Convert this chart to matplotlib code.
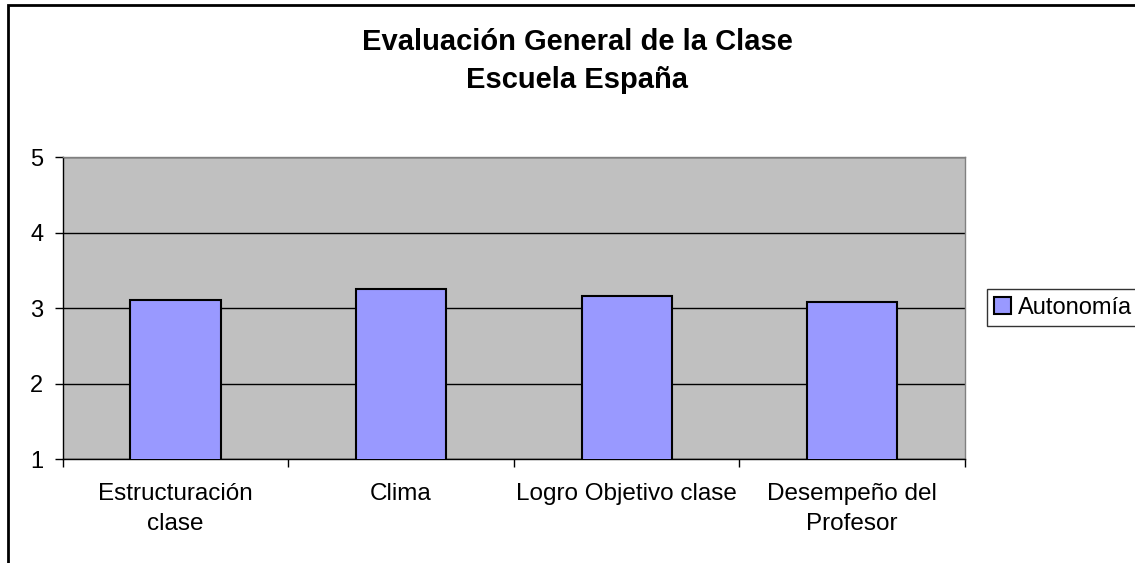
import matplotlib
matplotlib.use("Agg")
import matplotlib.pyplot as plt
from matplotlib.patches import Rectangle

categories = ["Estructuración\nclase", "Clima", "Logro Objetivo clase", "Desempeño del\nProfesor"]
values = [3.11, 3.26, 3.16, 3.09]
series_name = "Autonomía"
yticks = [1, 2, 3, 4, 5]
title_lines = ["Evaluación General de la Clase", "Escuela España"]

plt.rcParams['font.family'] = ['Liberation Sans', 'DejaVu Sans']

W, H = 1135, 563
fig = plt.figure(figsize=(W / 100, H / 100), dpi=100)
fig.patch.set_facecolor("white")

# outer border (cropped on right and bottom)
fig.add_artist(Rectangle((8 / W, -0.05), 1.2, (H - 5) / H + 0.05, transform=fig.transFigure,
                         fill=False, edgecolor="black", linewidth=2))

left, right = 62.7 / W, 965 / W
bottom, top = (H - 459.3) / H, (H - 157.3) / H
ax = fig.add_axes([left, bottom, right - left, top - bottom])
ax.set_facecolor("#C0C0C0")

x = list(range(len(categories)))
ax.bar(x, values, width=0.4, color="#9999FF", edgecolor="black", linewidth=1.5,
       label=series_name, zorder=3)

ax.set_xlim(-0.5, len(categories) - 0.5)
ax.set_ylim(yticks[0], yticks[-1])
ax.set_yticks(yticks)
ax.yaxis.grid(True, color="black", linewidth=1, zorder=1)
ax.set_axisbelow(True)

ax.set_xticks([i - 0.5 for i in range(len(categories) + 1)])
ax.set_xticklabels([])
ax.set_xticks(x, minor=True)
ax.set_xticklabels(categories, minor=True, fontsize=17.5, linespacing=1.47)
ax.tick_params(axis="x", which="major", direction="out", length=6, width=1, color="black")
ax.tick_params(axis="x", which="minor", length=0, pad=17)
ax.tick_params(axis="y", direction="out", length=6, width=1, labelsize=17, pad=8)

for s in ["top", "right"]:
    ax.spines[s].set_color("#808080")
    ax.spines[s].set_linewidth(1)
for s in ["left", "bottom"]:
    ax.spines[s].set_color("black")
    ax.spines[s].set_linewidth(1)

fig.text(577 / W, 1 - 42 / H, title_lines[0], ha="center", va="center",
         fontsize=21, fontweight="bold")
fig.text(577 / W, 1 - 80 / H, title_lines[1], ha="center", va="center",
         fontsize=21, fontweight="bold")

leg = fig.legend(loc="center left", bbox_to_anchor=(987 / W, 1 - 307.5 / H),
                 bbox_transform=fig.transFigure, fontsize=17, frameon=True,
                 fancybox=False, handlelength=0.7, handleheight=0.7,
                 handletextpad=0.3, borderpad=0.3, borderaxespad=0)
leg.get_frame().set_edgecolor("black")
leg.get_frame().set_linewidth(1)

fig.savefig("out.png", dpi=100)
